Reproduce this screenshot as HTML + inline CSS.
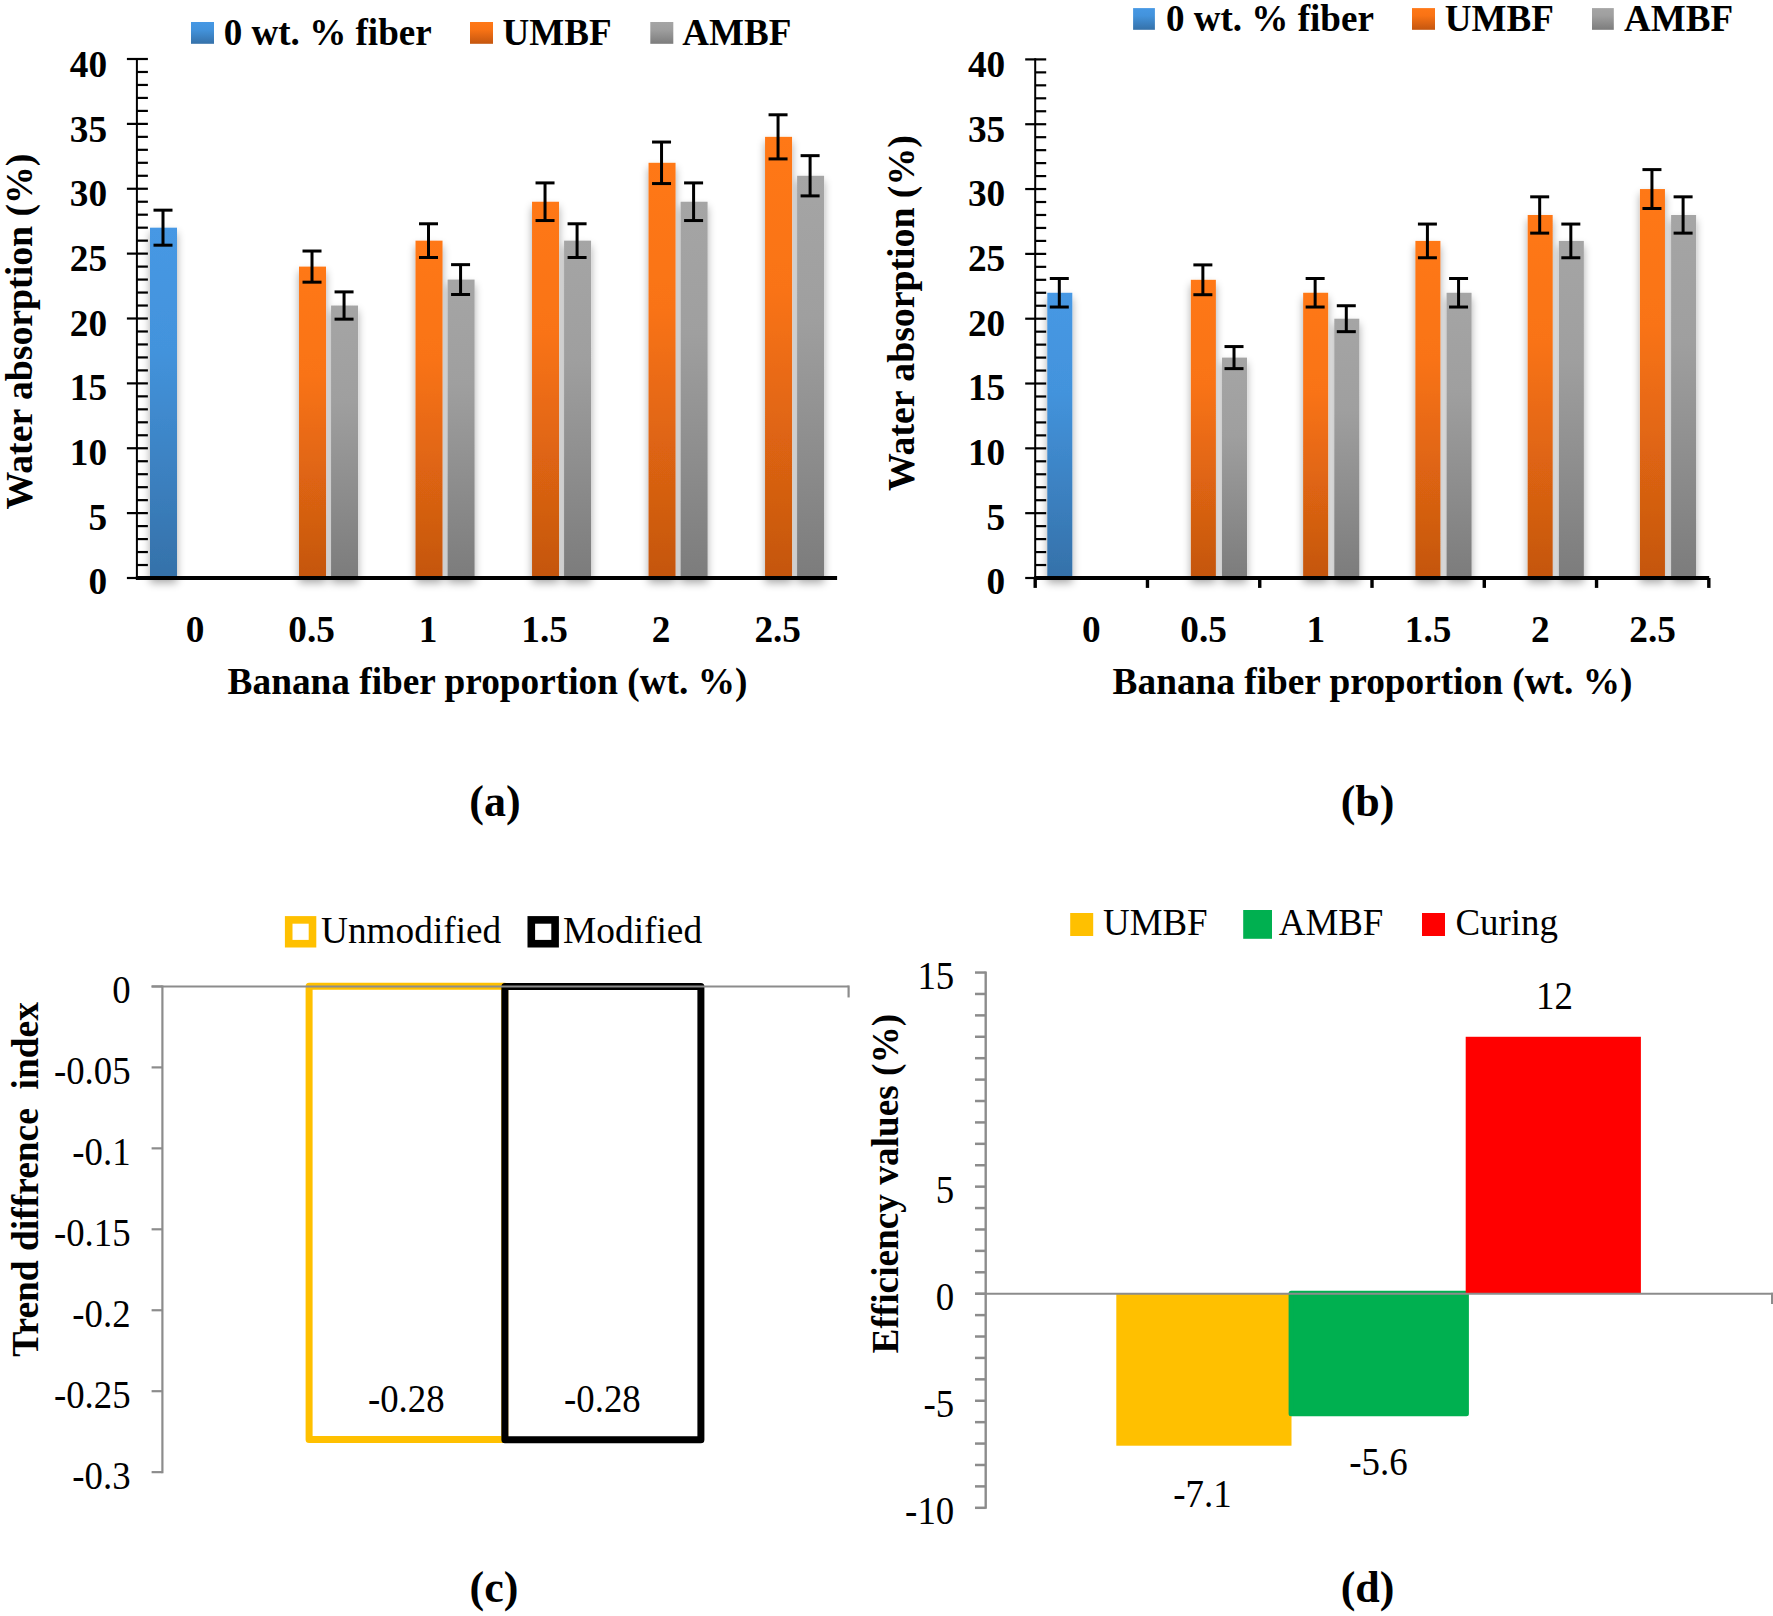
<!DOCTYPE html>
<html lang="en"><head><meta charset="utf-8"><title>Water absorption of banana fiber composites</title>
<style>
html,body{margin:0;padding:0;background:#fff;}
body{width:1773px;height:1616px;overflow:hidden;}
svg{display:block;font-family:"Liberation Serif", "Times New Roman", serif;}
text{fill:#000;font-variant-ligatures:none;}
</style></head><body>
<svg width="1773" height="1616" viewBox="0 0 1773 1616">
<defs>
<linearGradient id="gB" x1="0" y1="0" x2="0" y2="1"><stop offset="0" stop-color="#4698e4"/><stop offset="0.35" stop-color="#4393dc"/><stop offset="1" stop-color="#3571a9"/></linearGradient>
<linearGradient id="gO" x1="0" y1="0" x2="0" y2="1"><stop offset="0" stop-color="#ff7817"/><stop offset="0.35" stop-color="#f97315"/><stop offset="1" stop-color="#c4560f"/></linearGradient>
<linearGradient id="gG" x1="0" y1="0" x2="0" y2="1"><stop offset="0" stop-color="#a5a5a5"/><stop offset="0.35" stop-color="#9f9f9f"/><stop offset="1" stop-color="#7c7c7c"/></linearGradient>
<filter id="sh" x="-5%" y="-5%" width="110%" height="110%" filterUnits="objectBoundingBox">
<feGaussianBlur in="SourceAlpha" stdDeviation="4.3" result="b"/>
<feOffset in="b" dx="0" dy="4.6" result="o"/>
<feComponentTransfer in="o" result="s"><feFuncA type="linear" slope="0.34"/></feComponentTransfer>
<feMerge><feMergeNode in="s"/><feMergeNode in="SourceGraphic"/></feMerge>
</filter>
</defs>
<rect width="1773" height="1616" fill="#fff"/>

<g filter="url(#sh)">
<rect x="150.00" y="227.68" width="27.00" height="350.32" fill="url(#gB)"/>
<rect x="299.01" y="266.60" width="27.00" height="311.40" fill="url(#gO)"/>
<rect x="331.06" y="305.53" width="27.00" height="272.47" fill="url(#gG)"/>
<rect x="415.52" y="240.65" width="27.00" height="337.35" fill="url(#gO)"/>
<rect x="447.57" y="279.57" width="27.00" height="298.43" fill="url(#gG)"/>
<rect x="532.03" y="201.73" width="27.00" height="376.27" fill="url(#gO)"/>
<rect x="564.08" y="240.65" width="27.00" height="337.35" fill="url(#gG)"/>
<rect x="648.54" y="162.80" width="27.00" height="415.20" fill="url(#gO)"/>
<rect x="680.59" y="201.73" width="27.00" height="376.27" fill="url(#gG)"/>
<rect x="765.05" y="136.85" width="27.00" height="441.15" fill="url(#gO)"/>
<rect x="797.10" y="175.78" width="27.00" height="402.22" fill="url(#gG)"/>
</g>
<line x1="136.90" y1="57.90" x2="136.90" y2="579.50" stroke="#000" stroke-width="2.0" stroke-linecap="butt"/>
<line x1="126.90" y1="578.00" x2="147.90" y2="578.00" stroke="#000" stroke-width="2.2" stroke-linecap="butt"/>
<line x1="136.90" y1="565.02" x2="147.90" y2="565.02" stroke="#000" stroke-width="2.2" stroke-linecap="butt"/>
<line x1="136.90" y1="552.05" x2="147.90" y2="552.05" stroke="#000" stroke-width="2.2" stroke-linecap="butt"/>
<line x1="136.90" y1="539.08" x2="147.90" y2="539.08" stroke="#000" stroke-width="2.2" stroke-linecap="butt"/>
<line x1="136.90" y1="526.10" x2="147.90" y2="526.10" stroke="#000" stroke-width="2.2" stroke-linecap="butt"/>
<line x1="126.90" y1="513.12" x2="147.90" y2="513.12" stroke="#000" stroke-width="2.2" stroke-linecap="butt"/>
<line x1="136.90" y1="500.15" x2="147.90" y2="500.15" stroke="#000" stroke-width="2.2" stroke-linecap="butt"/>
<line x1="136.90" y1="487.18" x2="147.90" y2="487.18" stroke="#000" stroke-width="2.2" stroke-linecap="butt"/>
<line x1="136.90" y1="474.20" x2="147.90" y2="474.20" stroke="#000" stroke-width="2.2" stroke-linecap="butt"/>
<line x1="136.90" y1="461.23" x2="147.90" y2="461.23" stroke="#000" stroke-width="2.2" stroke-linecap="butt"/>
<line x1="126.90" y1="448.25" x2="147.90" y2="448.25" stroke="#000" stroke-width="2.2" stroke-linecap="butt"/>
<line x1="136.90" y1="435.27" x2="147.90" y2="435.27" stroke="#000" stroke-width="2.2" stroke-linecap="butt"/>
<line x1="136.90" y1="422.30" x2="147.90" y2="422.30" stroke="#000" stroke-width="2.2" stroke-linecap="butt"/>
<line x1="136.90" y1="409.33" x2="147.90" y2="409.33" stroke="#000" stroke-width="2.2" stroke-linecap="butt"/>
<line x1="136.90" y1="396.35" x2="147.90" y2="396.35" stroke="#000" stroke-width="2.2" stroke-linecap="butt"/>
<line x1="126.90" y1="383.38" x2="147.90" y2="383.38" stroke="#000" stroke-width="2.2" stroke-linecap="butt"/>
<line x1="136.90" y1="370.40" x2="147.90" y2="370.40" stroke="#000" stroke-width="2.2" stroke-linecap="butt"/>
<line x1="136.90" y1="357.43" x2="147.90" y2="357.43" stroke="#000" stroke-width="2.2" stroke-linecap="butt"/>
<line x1="136.90" y1="344.45" x2="147.90" y2="344.45" stroke="#000" stroke-width="2.2" stroke-linecap="butt"/>
<line x1="136.90" y1="331.48" x2="147.90" y2="331.48" stroke="#000" stroke-width="2.2" stroke-linecap="butt"/>
<line x1="126.90" y1="318.50" x2="147.90" y2="318.50" stroke="#000" stroke-width="2.2" stroke-linecap="butt"/>
<line x1="136.90" y1="305.53" x2="147.90" y2="305.53" stroke="#000" stroke-width="2.2" stroke-linecap="butt"/>
<line x1="136.90" y1="292.55" x2="147.90" y2="292.55" stroke="#000" stroke-width="2.2" stroke-linecap="butt"/>
<line x1="136.90" y1="279.57" x2="147.90" y2="279.57" stroke="#000" stroke-width="2.2" stroke-linecap="butt"/>
<line x1="136.90" y1="266.60" x2="147.90" y2="266.60" stroke="#000" stroke-width="2.2" stroke-linecap="butt"/>
<line x1="126.90" y1="253.62" x2="147.90" y2="253.62" stroke="#000" stroke-width="2.2" stroke-linecap="butt"/>
<line x1="136.90" y1="240.65" x2="147.90" y2="240.65" stroke="#000" stroke-width="2.2" stroke-linecap="butt"/>
<line x1="136.90" y1="227.68" x2="147.90" y2="227.68" stroke="#000" stroke-width="2.2" stroke-linecap="butt"/>
<line x1="136.90" y1="214.70" x2="147.90" y2="214.70" stroke="#000" stroke-width="2.2" stroke-linecap="butt"/>
<line x1="136.90" y1="201.73" x2="147.90" y2="201.73" stroke="#000" stroke-width="2.2" stroke-linecap="butt"/>
<line x1="126.90" y1="188.75" x2="147.90" y2="188.75" stroke="#000" stroke-width="2.2" stroke-linecap="butt"/>
<line x1="136.90" y1="175.78" x2="147.90" y2="175.78" stroke="#000" stroke-width="2.2" stroke-linecap="butt"/>
<line x1="136.90" y1="162.80" x2="147.90" y2="162.80" stroke="#000" stroke-width="2.2" stroke-linecap="butt"/>
<line x1="136.90" y1="149.82" x2="147.90" y2="149.82" stroke="#000" stroke-width="2.2" stroke-linecap="butt"/>
<line x1="136.90" y1="136.85" x2="147.90" y2="136.85" stroke="#000" stroke-width="2.2" stroke-linecap="butt"/>
<line x1="126.90" y1="123.88" x2="147.90" y2="123.88" stroke="#000" stroke-width="2.2" stroke-linecap="butt"/>
<line x1="136.90" y1="110.90" x2="147.90" y2="110.90" stroke="#000" stroke-width="2.2" stroke-linecap="butt"/>
<line x1="136.90" y1="97.93" x2="147.90" y2="97.93" stroke="#000" stroke-width="2.2" stroke-linecap="butt"/>
<line x1="136.90" y1="84.95" x2="147.90" y2="84.95" stroke="#000" stroke-width="2.2" stroke-linecap="butt"/>
<line x1="136.90" y1="71.98" x2="147.90" y2="71.98" stroke="#000" stroke-width="2.2" stroke-linecap="butt"/>
<line x1="126.90" y1="59.00" x2="147.90" y2="59.00" stroke="#000" stroke-width="2.2" stroke-linecap="butt"/>
<line x1="135.90" y1="578.00" x2="837.10" y2="578.00" stroke="#000" stroke-width="3.9" stroke-linecap="butt"/>
<line x1="163.00" y1="210.16" x2="163.00" y2="245.19" stroke="#000" stroke-width="3" stroke-linecap="butt"/>
<line x1="153.50" y1="210.16" x2="172.50" y2="210.16" stroke="#000" stroke-width="3" stroke-linecap="butt"/>
<line x1="153.50" y1="245.19" x2="172.50" y2="245.19" stroke="#000" stroke-width="3" stroke-linecap="butt"/>
<line x1="312.01" y1="251.03" x2="312.01" y2="282.17" stroke="#000" stroke-width="3" stroke-linecap="butt"/>
<line x1="302.51" y1="251.03" x2="321.51" y2="251.03" stroke="#000" stroke-width="3" stroke-linecap="butt"/>
<line x1="302.51" y1="282.17" x2="321.51" y2="282.17" stroke="#000" stroke-width="3" stroke-linecap="butt"/>
<line x1="344.06" y1="291.90" x2="344.06" y2="319.15" stroke="#000" stroke-width="3" stroke-linecap="butt"/>
<line x1="334.56" y1="291.90" x2="353.56" y2="291.90" stroke="#000" stroke-width="3" stroke-linecap="butt"/>
<line x1="334.56" y1="319.15" x2="353.56" y2="319.15" stroke="#000" stroke-width="3" stroke-linecap="butt"/>
<line x1="428.52" y1="223.78" x2="428.52" y2="257.52" stroke="#000" stroke-width="3" stroke-linecap="butt"/>
<line x1="419.02" y1="223.78" x2="438.02" y2="223.78" stroke="#000" stroke-width="3" stroke-linecap="butt"/>
<line x1="419.02" y1="257.52" x2="438.02" y2="257.52" stroke="#000" stroke-width="3" stroke-linecap="butt"/>
<line x1="460.57" y1="264.65" x2="460.57" y2="294.50" stroke="#000" stroke-width="3" stroke-linecap="butt"/>
<line x1="451.07" y1="264.65" x2="470.07" y2="264.65" stroke="#000" stroke-width="3" stroke-linecap="butt"/>
<line x1="451.07" y1="294.50" x2="470.07" y2="294.50" stroke="#000" stroke-width="3" stroke-linecap="butt"/>
<line x1="545.03" y1="182.91" x2="545.03" y2="220.54" stroke="#000" stroke-width="3" stroke-linecap="butt"/>
<line x1="535.53" y1="182.91" x2="554.53" y2="182.91" stroke="#000" stroke-width="3" stroke-linecap="butt"/>
<line x1="535.53" y1="220.54" x2="554.53" y2="220.54" stroke="#000" stroke-width="3" stroke-linecap="butt"/>
<line x1="577.08" y1="223.78" x2="577.08" y2="257.52" stroke="#000" stroke-width="3" stroke-linecap="butt"/>
<line x1="567.58" y1="223.78" x2="586.58" y2="223.78" stroke="#000" stroke-width="3" stroke-linecap="butt"/>
<line x1="567.58" y1="257.52" x2="586.58" y2="257.52" stroke="#000" stroke-width="3" stroke-linecap="butt"/>
<line x1="661.54" y1="142.04" x2="661.54" y2="183.56" stroke="#000" stroke-width="3" stroke-linecap="butt"/>
<line x1="652.04" y1="142.04" x2="671.04" y2="142.04" stroke="#000" stroke-width="3" stroke-linecap="butt"/>
<line x1="652.04" y1="183.56" x2="671.04" y2="183.56" stroke="#000" stroke-width="3" stroke-linecap="butt"/>
<line x1="693.59" y1="182.91" x2="693.59" y2="220.54" stroke="#000" stroke-width="3" stroke-linecap="butt"/>
<line x1="684.09" y1="182.91" x2="703.09" y2="182.91" stroke="#000" stroke-width="3" stroke-linecap="butt"/>
<line x1="684.09" y1="220.54" x2="703.09" y2="220.54" stroke="#000" stroke-width="3" stroke-linecap="butt"/>
<line x1="778.05" y1="114.79" x2="778.05" y2="158.91" stroke="#000" stroke-width="3" stroke-linecap="butt"/>
<line x1="768.55" y1="114.79" x2="787.55" y2="114.79" stroke="#000" stroke-width="3" stroke-linecap="butt"/>
<line x1="768.55" y1="158.91" x2="787.55" y2="158.91" stroke="#000" stroke-width="3" stroke-linecap="butt"/>
<line x1="810.10" y1="155.66" x2="810.10" y2="195.89" stroke="#000" stroke-width="3" stroke-linecap="butt"/>
<line x1="800.60" y1="155.66" x2="819.60" y2="155.66" stroke="#000" stroke-width="3" stroke-linecap="butt"/>
<line x1="800.60" y1="195.89" x2="819.60" y2="195.89" stroke="#000" stroke-width="3" stroke-linecap="butt"/>
<text x="107.1" y="594.2" font-size="37.3" font-weight="bold" text-anchor="end" transform="matrix(1 0 0 1.03 0 -17.826)">0</text>
<text x="107.1" y="529.5600000000001" font-size="37.3" font-weight="bold" text-anchor="end" transform="matrix(1 0 0 1.03 0 -15.887)">5</text>
<text x="107.1" y="464.9200000000001" font-size="37.3" font-weight="bold" text-anchor="end" transform="matrix(1 0 0 1.03 0 -13.948)">10</text>
<text x="107.1" y="400.28000000000003" font-size="37.3" font-weight="bold" text-anchor="end" transform="matrix(1 0 0 1.03 0 -12.008)">15</text>
<text x="107.1" y="335.64000000000004" font-size="37.3" font-weight="bold" text-anchor="end" transform="matrix(1 0 0 1.03 0 -10.069)">20</text>
<text x="107.1" y="271.0" font-size="37.3" font-weight="bold" text-anchor="end" transform="matrix(1 0 0 1.03 0 -8.130)">25</text>
<text x="107.1" y="206.36" font-size="37.3" font-weight="bold" text-anchor="end" transform="matrix(1 0 0 1.03 0 -6.191)">30</text>
<text x="107.1" y="141.72000000000003" font-size="37.3" font-weight="bold" text-anchor="end" transform="matrix(1 0 0 1.03 0 -4.252)">35</text>
<text x="107.1" y="77.08000000000004" font-size="37.3" font-weight="bold" text-anchor="end" transform="matrix(1 0 0 1.03 0 -2.312)">40</text>
<text x="195.155" y="642" font-size="37.3" font-weight="bold" text-anchor="middle" transform="matrix(1 0 0 1.03 0 -19.260)">0</text>
<text x="311.665" y="642" font-size="37.3" font-weight="bold" text-anchor="middle" transform="matrix(1 0 0 1.03 0 -19.260)">0.5</text>
<text x="428.17500000000007" y="642" font-size="37.3" font-weight="bold" text-anchor="middle" transform="matrix(1 0 0 1.03 0 -19.260)">1</text>
<text x="544.6850000000001" y="642" font-size="37.3" font-weight="bold" text-anchor="middle" transform="matrix(1 0 0 1.03 0 -19.260)">1.5</text>
<text x="661.195" y="642" font-size="37.3" font-weight="bold" text-anchor="middle" transform="matrix(1 0 0 1.03 0 -19.260)">2</text>
<text x="777.705" y="642" font-size="37.3" font-weight="bold" text-anchor="middle" transform="matrix(1 0 0 1.03 0 -19.260)">2.5</text>
<text x="487.5" y="693.6" font-size="37.3" font-weight="bold" text-anchor="middle">Banana fiber proportion (wt. %)</text>
<text x="31.7" y="331.55" font-size="37.75" font-weight="bold" text-anchor="middle" transform="rotate(-90 31.7 331.55)">Water absorption (%)</text>
<rect x="191.00" y="22.00" width="23.00" height="21.80" fill="url(#gB)"/>
<text x="223.7" y="45.2" font-size="37.1" font-weight="bold" text-anchor="start">0 wt. % fiber</text>
<rect x="470.00" y="22.00" width="23.00" height="21.80" fill="url(#gO)"/>
<text x="502.6" y="45.2" font-size="37.1" font-weight="bold" text-anchor="start">UMBF</text>
<rect x="650.30" y="22.00" width="23.00" height="21.80" fill="url(#gG)"/>
<text x="682.2" y="45.2" font-size="37.1" font-weight="bold" text-anchor="start">AMBF</text>
<g filter="url(#sh)">
<rect x="1047.30" y="292.77" width="25.00" height="285.23" fill="url(#gB)"/>
<rect x="1190.87" y="279.81" width="25.00" height="298.19" fill="url(#gO)"/>
<rect x="1222.02" y="357.60" width="25.00" height="220.41" fill="url(#gG)"/>
<rect x="1303.14" y="292.77" width="25.00" height="285.23" fill="url(#gO)"/>
<rect x="1334.29" y="318.70" width="25.00" height="259.30" fill="url(#gG)"/>
<rect x="1415.41" y="240.91" width="25.00" height="337.09" fill="url(#gO)"/>
<rect x="1446.56" y="292.77" width="25.00" height="285.23" fill="url(#gG)"/>
<rect x="1527.68" y="214.98" width="25.00" height="363.02" fill="url(#gO)"/>
<rect x="1558.83" y="240.91" width="25.00" height="337.09" fill="url(#gG)"/>
<rect x="1639.95" y="189.05" width="25.00" height="388.95" fill="url(#gO)"/>
<rect x="1671.10" y="214.98" width="25.00" height="363.02" fill="url(#gG)"/>
</g>
<line x1="1035.20" y1="58.30" x2="1035.20" y2="579.50" stroke="#000" stroke-width="2.0" stroke-linecap="butt"/>
<line x1="1025.20" y1="578.00" x2="1046.20" y2="578.00" stroke="#000" stroke-width="2.2" stroke-linecap="butt"/>
<line x1="1035.20" y1="565.03" x2="1046.20" y2="565.03" stroke="#000" stroke-width="2.2" stroke-linecap="butt"/>
<line x1="1035.20" y1="552.07" x2="1046.20" y2="552.07" stroke="#000" stroke-width="2.2" stroke-linecap="butt"/>
<line x1="1035.20" y1="539.11" x2="1046.20" y2="539.11" stroke="#000" stroke-width="2.2" stroke-linecap="butt"/>
<line x1="1035.20" y1="526.14" x2="1046.20" y2="526.14" stroke="#000" stroke-width="2.2" stroke-linecap="butt"/>
<line x1="1025.20" y1="513.17" x2="1046.20" y2="513.17" stroke="#000" stroke-width="2.2" stroke-linecap="butt"/>
<line x1="1035.20" y1="500.21" x2="1046.20" y2="500.21" stroke="#000" stroke-width="2.2" stroke-linecap="butt"/>
<line x1="1035.20" y1="487.25" x2="1046.20" y2="487.25" stroke="#000" stroke-width="2.2" stroke-linecap="butt"/>
<line x1="1035.20" y1="474.28" x2="1046.20" y2="474.28" stroke="#000" stroke-width="2.2" stroke-linecap="butt"/>
<line x1="1035.20" y1="461.31" x2="1046.20" y2="461.31" stroke="#000" stroke-width="2.2" stroke-linecap="butt"/>
<line x1="1025.20" y1="448.35" x2="1046.20" y2="448.35" stroke="#000" stroke-width="2.2" stroke-linecap="butt"/>
<line x1="1035.20" y1="435.38" x2="1046.20" y2="435.38" stroke="#000" stroke-width="2.2" stroke-linecap="butt"/>
<line x1="1035.20" y1="422.42" x2="1046.20" y2="422.42" stroke="#000" stroke-width="2.2" stroke-linecap="butt"/>
<line x1="1035.20" y1="409.46" x2="1046.20" y2="409.46" stroke="#000" stroke-width="2.2" stroke-linecap="butt"/>
<line x1="1035.20" y1="396.49" x2="1046.20" y2="396.49" stroke="#000" stroke-width="2.2" stroke-linecap="butt"/>
<line x1="1025.20" y1="383.52" x2="1046.20" y2="383.52" stroke="#000" stroke-width="2.2" stroke-linecap="butt"/>
<line x1="1035.20" y1="370.56" x2="1046.20" y2="370.56" stroke="#000" stroke-width="2.2" stroke-linecap="butt"/>
<line x1="1035.20" y1="357.60" x2="1046.20" y2="357.60" stroke="#000" stroke-width="2.2" stroke-linecap="butt"/>
<line x1="1035.20" y1="344.63" x2="1046.20" y2="344.63" stroke="#000" stroke-width="2.2" stroke-linecap="butt"/>
<line x1="1035.20" y1="331.66" x2="1046.20" y2="331.66" stroke="#000" stroke-width="2.2" stroke-linecap="butt"/>
<line x1="1025.20" y1="318.70" x2="1046.20" y2="318.70" stroke="#000" stroke-width="2.2" stroke-linecap="butt"/>
<line x1="1035.20" y1="305.74" x2="1046.20" y2="305.74" stroke="#000" stroke-width="2.2" stroke-linecap="butt"/>
<line x1="1035.20" y1="292.77" x2="1046.20" y2="292.77" stroke="#000" stroke-width="2.2" stroke-linecap="butt"/>
<line x1="1035.20" y1="279.81" x2="1046.20" y2="279.81" stroke="#000" stroke-width="2.2" stroke-linecap="butt"/>
<line x1="1035.20" y1="266.84" x2="1046.20" y2="266.84" stroke="#000" stroke-width="2.2" stroke-linecap="butt"/>
<line x1="1025.20" y1="253.88" x2="1046.20" y2="253.88" stroke="#000" stroke-width="2.2" stroke-linecap="butt"/>
<line x1="1035.20" y1="240.91" x2="1046.20" y2="240.91" stroke="#000" stroke-width="2.2" stroke-linecap="butt"/>
<line x1="1035.20" y1="227.94" x2="1046.20" y2="227.94" stroke="#000" stroke-width="2.2" stroke-linecap="butt"/>
<line x1="1035.20" y1="214.98" x2="1046.20" y2="214.98" stroke="#000" stroke-width="2.2" stroke-linecap="butt"/>
<line x1="1035.20" y1="202.01" x2="1046.20" y2="202.01" stroke="#000" stroke-width="2.2" stroke-linecap="butt"/>
<line x1="1025.20" y1="189.05" x2="1046.20" y2="189.05" stroke="#000" stroke-width="2.2" stroke-linecap="butt"/>
<line x1="1035.20" y1="176.08" x2="1046.20" y2="176.08" stroke="#000" stroke-width="2.2" stroke-linecap="butt"/>
<line x1="1035.20" y1="163.12" x2="1046.20" y2="163.12" stroke="#000" stroke-width="2.2" stroke-linecap="butt"/>
<line x1="1035.20" y1="150.16" x2="1046.20" y2="150.16" stroke="#000" stroke-width="2.2" stroke-linecap="butt"/>
<line x1="1035.20" y1="137.19" x2="1046.20" y2="137.19" stroke="#000" stroke-width="2.2" stroke-linecap="butt"/>
<line x1="1025.20" y1="124.23" x2="1046.20" y2="124.23" stroke="#000" stroke-width="2.2" stroke-linecap="butt"/>
<line x1="1035.20" y1="111.26" x2="1046.20" y2="111.26" stroke="#000" stroke-width="2.2" stroke-linecap="butt"/>
<line x1="1035.20" y1="98.30" x2="1046.20" y2="98.30" stroke="#000" stroke-width="2.2" stroke-linecap="butt"/>
<line x1="1035.20" y1="85.33" x2="1046.20" y2="85.33" stroke="#000" stroke-width="2.2" stroke-linecap="butt"/>
<line x1="1035.20" y1="72.37" x2="1046.20" y2="72.37" stroke="#000" stroke-width="2.2" stroke-linecap="butt"/>
<line x1="1025.20" y1="59.40" x2="1046.20" y2="59.40" stroke="#000" stroke-width="2.2" stroke-linecap="butt"/>
<line x1="1034.20" y1="578.00" x2="1709.20" y2="578.00" stroke="#000" stroke-width="3.9" stroke-linecap="butt"/>
<line x1="1035.20" y1="578.00" x2="1035.20" y2="587.90" stroke="#000" stroke-width="3.4" stroke-linecap="butt"/>
<line x1="1147.47" y1="578.00" x2="1147.47" y2="587.90" stroke="#000" stroke-width="3.4" stroke-linecap="butt"/>
<line x1="1259.74" y1="578.00" x2="1259.74" y2="587.90" stroke="#000" stroke-width="3.4" stroke-linecap="butt"/>
<line x1="1372.01" y1="578.00" x2="1372.01" y2="587.90" stroke="#000" stroke-width="3.4" stroke-linecap="butt"/>
<line x1="1484.28" y1="578.00" x2="1484.28" y2="587.90" stroke="#000" stroke-width="3.4" stroke-linecap="butt"/>
<line x1="1596.55" y1="578.00" x2="1596.55" y2="587.90" stroke="#000" stroke-width="3.4" stroke-linecap="butt"/>
<line x1="1708.82" y1="578.00" x2="1708.82" y2="587.90" stroke="#000" stroke-width="3.4" stroke-linecap="butt"/>
<line x1="1059.30" y1="278.51" x2="1059.30" y2="307.03" stroke="#000" stroke-width="3" stroke-linecap="butt"/>
<line x1="1049.80" y1="278.51" x2="1068.80" y2="278.51" stroke="#000" stroke-width="3" stroke-linecap="butt"/>
<line x1="1049.80" y1="307.03" x2="1068.80" y2="307.03" stroke="#000" stroke-width="3" stroke-linecap="butt"/>
<line x1="1202.87" y1="264.90" x2="1202.87" y2="294.71" stroke="#000" stroke-width="3" stroke-linecap="butt"/>
<line x1="1193.37" y1="264.90" x2="1212.37" y2="264.90" stroke="#000" stroke-width="3" stroke-linecap="butt"/>
<line x1="1193.37" y1="294.71" x2="1212.37" y2="294.71" stroke="#000" stroke-width="3" stroke-linecap="butt"/>
<line x1="1234.02" y1="346.57" x2="1234.02" y2="368.62" stroke="#000" stroke-width="3" stroke-linecap="butt"/>
<line x1="1224.52" y1="346.57" x2="1243.52" y2="346.57" stroke="#000" stroke-width="3" stroke-linecap="butt"/>
<line x1="1224.52" y1="368.62" x2="1243.52" y2="368.62" stroke="#000" stroke-width="3" stroke-linecap="butt"/>
<line x1="1315.14" y1="278.51" x2="1315.14" y2="307.03" stroke="#000" stroke-width="3" stroke-linecap="butt"/>
<line x1="1305.64" y1="278.51" x2="1324.64" y2="278.51" stroke="#000" stroke-width="3" stroke-linecap="butt"/>
<line x1="1305.64" y1="307.03" x2="1324.64" y2="307.03" stroke="#000" stroke-width="3" stroke-linecap="butt"/>
<line x1="1346.29" y1="305.74" x2="1346.29" y2="331.66" stroke="#000" stroke-width="3" stroke-linecap="butt"/>
<line x1="1336.79" y1="305.74" x2="1355.79" y2="305.74" stroke="#000" stroke-width="3" stroke-linecap="butt"/>
<line x1="1336.79" y1="331.66" x2="1355.79" y2="331.66" stroke="#000" stroke-width="3" stroke-linecap="butt"/>
<line x1="1427.41" y1="224.06" x2="1427.41" y2="257.76" stroke="#000" stroke-width="3" stroke-linecap="butt"/>
<line x1="1417.91" y1="224.06" x2="1436.91" y2="224.06" stroke="#000" stroke-width="3" stroke-linecap="butt"/>
<line x1="1417.91" y1="257.76" x2="1436.91" y2="257.76" stroke="#000" stroke-width="3" stroke-linecap="butt"/>
<line x1="1458.56" y1="278.51" x2="1458.56" y2="307.03" stroke="#000" stroke-width="3" stroke-linecap="butt"/>
<line x1="1449.06" y1="278.51" x2="1468.06" y2="278.51" stroke="#000" stroke-width="3" stroke-linecap="butt"/>
<line x1="1449.06" y1="307.03" x2="1468.06" y2="307.03" stroke="#000" stroke-width="3" stroke-linecap="butt"/>
<line x1="1539.68" y1="196.83" x2="1539.68" y2="233.13" stroke="#000" stroke-width="3" stroke-linecap="butt"/>
<line x1="1530.18" y1="196.83" x2="1549.18" y2="196.83" stroke="#000" stroke-width="3" stroke-linecap="butt"/>
<line x1="1530.18" y1="233.13" x2="1549.18" y2="233.13" stroke="#000" stroke-width="3" stroke-linecap="butt"/>
<line x1="1570.83" y1="224.06" x2="1570.83" y2="257.76" stroke="#000" stroke-width="3" stroke-linecap="butt"/>
<line x1="1561.33" y1="224.06" x2="1580.33" y2="224.06" stroke="#000" stroke-width="3" stroke-linecap="butt"/>
<line x1="1561.33" y1="257.76" x2="1580.33" y2="257.76" stroke="#000" stroke-width="3" stroke-linecap="butt"/>
<line x1="1651.95" y1="169.60" x2="1651.95" y2="208.50" stroke="#000" stroke-width="3" stroke-linecap="butt"/>
<line x1="1642.45" y1="169.60" x2="1661.45" y2="169.60" stroke="#000" stroke-width="3" stroke-linecap="butt"/>
<line x1="1642.45" y1="208.50" x2="1661.45" y2="208.50" stroke="#000" stroke-width="3" stroke-linecap="butt"/>
<line x1="1683.10" y1="196.83" x2="1683.10" y2="233.13" stroke="#000" stroke-width="3" stroke-linecap="butt"/>
<line x1="1673.60" y1="196.83" x2="1692.60" y2="196.83" stroke="#000" stroke-width="3" stroke-linecap="butt"/>
<line x1="1673.60" y1="233.13" x2="1692.60" y2="233.13" stroke="#000" stroke-width="3" stroke-linecap="butt"/>
<text x="1005.2" y="594.2" font-size="37.3" font-weight="bold" text-anchor="end" transform="matrix(1 0 0 1.03 0 -17.826)">0</text>
<text x="1005.2" y="529.5600000000001" font-size="37.3" font-weight="bold" text-anchor="end" transform="matrix(1 0 0 1.03 0 -15.887)">5</text>
<text x="1005.2" y="464.9200000000001" font-size="37.3" font-weight="bold" text-anchor="end" transform="matrix(1 0 0 1.03 0 -13.948)">10</text>
<text x="1005.2" y="400.28000000000003" font-size="37.3" font-weight="bold" text-anchor="end" transform="matrix(1 0 0 1.03 0 -12.008)">15</text>
<text x="1005.2" y="335.64000000000004" font-size="37.3" font-weight="bold" text-anchor="end" transform="matrix(1 0 0 1.03 0 -10.069)">20</text>
<text x="1005.2" y="271.0" font-size="37.3" font-weight="bold" text-anchor="end" transform="matrix(1 0 0 1.03 0 -8.130)">25</text>
<text x="1005.2" y="206.36" font-size="37.3" font-weight="bold" text-anchor="end" transform="matrix(1 0 0 1.03 0 -6.191)">30</text>
<text x="1005.2" y="141.72000000000003" font-size="37.3" font-weight="bold" text-anchor="end" transform="matrix(1 0 0 1.03 0 -4.252)">35</text>
<text x="1005.2" y="77.08000000000004" font-size="37.3" font-weight="bold" text-anchor="end" transform="matrix(1 0 0 1.03 0 -2.312)">40</text>
<text x="1091.335" y="642" font-size="37.3" font-weight="bold" text-anchor="middle" transform="matrix(1 0 0 1.03 0 -19.260)">0</text>
<text x="1203.605" y="642" font-size="37.3" font-weight="bold" text-anchor="middle" transform="matrix(1 0 0 1.03 0 -19.260)">0.5</text>
<text x="1315.875" y="642" font-size="37.3" font-weight="bold" text-anchor="middle" transform="matrix(1 0 0 1.03 0 -19.260)">1</text>
<text x="1428.145" y="642" font-size="37.3" font-weight="bold" text-anchor="middle" transform="matrix(1 0 0 1.03 0 -19.260)">1.5</text>
<text x="1540.415" y="642" font-size="37.3" font-weight="bold" text-anchor="middle" transform="matrix(1 0 0 1.03 0 -19.260)">2</text>
<text x="1652.685" y="642" font-size="37.3" font-weight="bold" text-anchor="middle" transform="matrix(1 0 0 1.03 0 -19.260)">2.5</text>
<text x="1372.5" y="693.6" font-size="37.3" font-weight="bold" text-anchor="middle">Banana fiber proportion (wt. %)</text>
<text x="914.5" y="313.15" font-size="37.75" font-weight="bold" text-anchor="middle" transform="rotate(-90 914.5 313.15)">Water absorption (%)</text>
<rect x="1133.10" y="8.10" width="21.80" height="21.70" fill="url(#gB)"/>
<text x="1165.9" y="31.1" font-size="37.1" font-weight="bold" text-anchor="start">0 wt. % fiber</text>
<rect x="1412.00" y="8.10" width="23.00" height="21.70" fill="url(#gO)"/>
<text x="1444.7" y="31.1" font-size="37.1" font-weight="bold" text-anchor="start">UMBF</text>
<rect x="1592.00" y="8.10" width="21.80" height="21.70" fill="url(#gG)"/>
<text x="1624.0" y="31.1" font-size="37.1" font-weight="bold" text-anchor="start">AMBF</text>
<text x="495.0" y="816" font-size="44" font-weight="bold" text-anchor="middle">(a)</text>
<text x="1367.6" y="816" font-size="44" font-weight="bold" text-anchor="middle">(b)</text>
<text x="494.0" y="1602.2" font-size="44" font-weight="bold" text-anchor="middle">(c)</text>
<text x="1367.6" y="1602.2" font-size="44" font-weight="bold" text-anchor="middle">(d)</text>
<rect x="309.1" y="986.25" width="195.7" height="453.32" fill="none" stroke="#ffc000" stroke-width="7" stroke-linejoin="round"/>
<rect x="504.9" y="986.45" width="196" height="453.32" fill="none" stroke="#000" stroke-width="7" stroke-linejoin="round"/>
<line x1="162.40" y1="985.45" x2="162.40" y2="1473.15" stroke="#8c8c8c" stroke-width="2.2" stroke-linecap="butt"/>
<line x1="151.60" y1="986.45" x2="162.40" y2="986.45" stroke="#8c8c8c" stroke-width="2.2" stroke-linecap="butt"/>
<line x1="151.60" y1="1067.40" x2="162.40" y2="1067.40" stroke="#8c8c8c" stroke-width="2.2" stroke-linecap="butt"/>
<line x1="151.60" y1="1148.35" x2="162.40" y2="1148.35" stroke="#8c8c8c" stroke-width="2.2" stroke-linecap="butt"/>
<line x1="151.60" y1="1229.30" x2="162.40" y2="1229.30" stroke="#8c8c8c" stroke-width="2.2" stroke-linecap="butt"/>
<line x1="151.60" y1="1310.25" x2="162.40" y2="1310.25" stroke="#8c8c8c" stroke-width="2.2" stroke-linecap="butt"/>
<line x1="151.60" y1="1391.20" x2="162.40" y2="1391.20" stroke="#8c8c8c" stroke-width="2.2" stroke-linecap="butt"/>
<line x1="151.60" y1="1472.15" x2="162.40" y2="1472.15" stroke="#8c8c8c" stroke-width="2.2" stroke-linecap="butt"/>
<line x1="151.60" y1="986.55" x2="848.60" y2="986.55" stroke="#8c8c8c" stroke-width="2.0" stroke-linecap="butt"/>
<line x1="848.60" y1="985.45" x2="848.60" y2="997.45" stroke="#8c8c8c" stroke-width="2.2" stroke-linecap="butt"/>
<text x="130.6" y="1002.85" font-size="36.8" text-anchor="end" transform="matrix(1 0 0 1.09 0 -90.257)">0</text>
<text x="130.6" y="1083.8000000000002" font-size="36.8" text-anchor="end" transform="matrix(1 0 0 1.09 0 -97.542)">-0.05</text>
<text x="130.6" y="1164.7500000000002" font-size="36.8" text-anchor="end" transform="matrix(1 0 0 1.09 0 -104.828)">-0.1</text>
<text x="130.6" y="1245.7000000000003" font-size="36.8" text-anchor="end" transform="matrix(1 0 0 1.09 0 -112.113)">-0.15</text>
<text x="130.6" y="1326.65" font-size="36.8" text-anchor="end" transform="matrix(1 0 0 1.09 0 -119.399)">-0.2</text>
<text x="130.6" y="1407.6000000000001" font-size="36.8" text-anchor="end" transform="matrix(1 0 0 1.09 0 -126.684)">-0.25</text>
<text x="130.6" y="1488.5500000000002" font-size="36.8" text-anchor="end" transform="matrix(1 0 0 1.09 0 -133.970)">-0.3</text>
<text x="406.3" y="1411.7" font-size="36.8" text-anchor="middle" transform="matrix(1 0 0 1.09 0 -127.053)">-0.28</text>
<text x="602.4" y="1411.7" font-size="36.8" text-anchor="middle" transform="matrix(1 0 0 1.09 0 -127.053)">-0.28</text>
<text x="38" y="1179.4" font-size="37.45" font-weight="bold" text-anchor="middle" transform="rotate(-90 38 1179.4)" style="white-space:pre">Trend diffrence  index</text>
<rect x="288.7" y="919.9" width="23.8" height="23.8" fill="#fff" stroke="#ffc000" stroke-width="7.6"/>
<text x="321" y="942.5" font-size="37.3" text-anchor="start">Unmodified</text>
<rect x="531.3" y="919.9" width="23.8" height="23.8" fill="#fff" stroke="#000" stroke-width="7.6"/>
<text x="563.0" y="942.5" font-size="37.4" text-anchor="start">Modified</text>
<rect x="1116.30" y="1293.70" width="175.20" height="152.01" fill="#ffc000"/>
<rect x="1291.1" y="1293.30" width="175.3" height="120.40" fill="#00b050" stroke="#00b050" stroke-width="5" stroke-linejoin="round"/>
<rect x="1465.70" y="1036.78" width="175.20" height="256.92" fill="#ff0000"/>
<line x1="985.70" y1="971.55" x2="985.70" y2="1508.80" stroke="#8c8c8c" stroke-width="2.4" stroke-linecap="butt"/>
<line x1="975.00" y1="1507.80" x2="985.70" y2="1507.80" stroke="#8c8c8c" stroke-width="2.5" stroke-linecap="butt"/>
<line x1="975.00" y1="1486.39" x2="985.70" y2="1486.39" stroke="#8c8c8c" stroke-width="2.5" stroke-linecap="butt"/>
<line x1="975.00" y1="1464.98" x2="985.70" y2="1464.98" stroke="#8c8c8c" stroke-width="2.5" stroke-linecap="butt"/>
<line x1="975.00" y1="1443.57" x2="985.70" y2="1443.57" stroke="#8c8c8c" stroke-width="2.5" stroke-linecap="butt"/>
<line x1="975.00" y1="1422.16" x2="985.70" y2="1422.16" stroke="#8c8c8c" stroke-width="2.5" stroke-linecap="butt"/>
<line x1="975.00" y1="1400.75" x2="985.70" y2="1400.75" stroke="#8c8c8c" stroke-width="2.5" stroke-linecap="butt"/>
<line x1="975.00" y1="1379.34" x2="985.70" y2="1379.34" stroke="#8c8c8c" stroke-width="2.5" stroke-linecap="butt"/>
<line x1="975.00" y1="1357.93" x2="985.70" y2="1357.93" stroke="#8c8c8c" stroke-width="2.5" stroke-linecap="butt"/>
<line x1="975.00" y1="1336.52" x2="985.70" y2="1336.52" stroke="#8c8c8c" stroke-width="2.5" stroke-linecap="butt"/>
<line x1="975.00" y1="1315.11" x2="985.70" y2="1315.11" stroke="#8c8c8c" stroke-width="2.5" stroke-linecap="butt"/>
<line x1="975.00" y1="1293.70" x2="985.70" y2="1293.70" stroke="#8c8c8c" stroke-width="2.5" stroke-linecap="butt"/>
<line x1="975.00" y1="1272.29" x2="985.70" y2="1272.29" stroke="#8c8c8c" stroke-width="2.5" stroke-linecap="butt"/>
<line x1="975.00" y1="1250.88" x2="985.70" y2="1250.88" stroke="#8c8c8c" stroke-width="2.5" stroke-linecap="butt"/>
<line x1="975.00" y1="1229.47" x2="985.70" y2="1229.47" stroke="#8c8c8c" stroke-width="2.5" stroke-linecap="butt"/>
<line x1="975.00" y1="1208.06" x2="985.70" y2="1208.06" stroke="#8c8c8c" stroke-width="2.5" stroke-linecap="butt"/>
<line x1="975.00" y1="1186.65" x2="985.70" y2="1186.65" stroke="#8c8c8c" stroke-width="2.5" stroke-linecap="butt"/>
<line x1="975.00" y1="1165.24" x2="985.70" y2="1165.24" stroke="#8c8c8c" stroke-width="2.5" stroke-linecap="butt"/>
<line x1="975.00" y1="1143.83" x2="985.70" y2="1143.83" stroke="#8c8c8c" stroke-width="2.5" stroke-linecap="butt"/>
<line x1="975.00" y1="1122.42" x2="985.70" y2="1122.42" stroke="#8c8c8c" stroke-width="2.5" stroke-linecap="butt"/>
<line x1="975.00" y1="1101.01" x2="985.70" y2="1101.01" stroke="#8c8c8c" stroke-width="2.5" stroke-linecap="butt"/>
<line x1="975.00" y1="1079.60" x2="985.70" y2="1079.60" stroke="#8c8c8c" stroke-width="2.5" stroke-linecap="butt"/>
<line x1="975.00" y1="1058.19" x2="985.70" y2="1058.19" stroke="#8c8c8c" stroke-width="2.5" stroke-linecap="butt"/>
<line x1="975.00" y1="1036.78" x2="985.70" y2="1036.78" stroke="#8c8c8c" stroke-width="2.5" stroke-linecap="butt"/>
<line x1="975.00" y1="1015.37" x2="985.70" y2="1015.37" stroke="#8c8c8c" stroke-width="2.5" stroke-linecap="butt"/>
<line x1="975.00" y1="993.96" x2="985.70" y2="993.96" stroke="#8c8c8c" stroke-width="2.5" stroke-linecap="butt"/>
<line x1="975.00" y1="972.55" x2="985.70" y2="972.55" stroke="#8c8c8c" stroke-width="2.5" stroke-linecap="butt"/>
<line x1="975.00" y1="1293.70" x2="1773.00" y2="1293.70" stroke="#8c8c8c" stroke-width="2.0" stroke-linecap="butt"/>
<line x1="1772.20" y1="1292.70" x2="1772.20" y2="1304.10" stroke="#8c8c8c" stroke-width="2.4" stroke-linecap="butt"/>
<text x="954.3" y="989.0500000000001" font-size="36.9" text-anchor="end" transform="matrix(1 0 0 1.09 0 -89.015)">15</text>
<text x="954.3" y="1203.15" font-size="36.9" text-anchor="end" transform="matrix(1 0 0 1.09 0 -108.284)">5</text>
<text x="954.3" y="1310.2" font-size="36.9" text-anchor="end" transform="matrix(1 0 0 1.09 0 -117.918)">0</text>
<text x="954.3" y="1417.25" font-size="36.9" text-anchor="end" transform="matrix(1 0 0 1.09 0 -127.553)">-5</text>
<text x="954.3" y="1524.3" font-size="36.9" text-anchor="end" transform="matrix(1 0 0 1.09 0 -137.187)">-10</text>
<text x="1554.5" y="1008.6" font-size="36.9" text-anchor="middle" transform="matrix(1 0 0 1.09 0 -90.774)">12</text>
<text x="1202.4" y="1506.8" font-size="36.9" text-anchor="middle" transform="matrix(1 0 0 1.09 0 -135.612)">-7.1</text>
<text x="1378.4" y="1475.2" font-size="36.9" text-anchor="middle" transform="matrix(1 0 0 1.09 0 -132.768)">-5.6</text>
<text x="898" y="1183.6" font-size="37.3" font-weight="bold" text-anchor="middle" transform="rotate(-90 898 1183.6)">Efficiency values (%)</text>
<rect x="1070.20" y="913.00" width="23.00" height="23.00" fill="#ffc000"/>
<text x="1103" y="935.4" font-size="36.9" text-anchor="start">UMBF</text>
<rect x="1245.7" y="912.5" width="23.8" height="23.8" fill="#00b050" stroke="#00b050" stroke-width="5"/>
<text x="1278.8" y="935.4" font-size="36.9" text-anchor="start">AMBF</text>
<rect x="1422.00" y="913.00" width="23.00" height="23.00" fill="#ff0000"/>
<text x="1455.5" y="935.4" font-size="36.9" text-anchor="start">Curing</text>
</svg></body></html>
